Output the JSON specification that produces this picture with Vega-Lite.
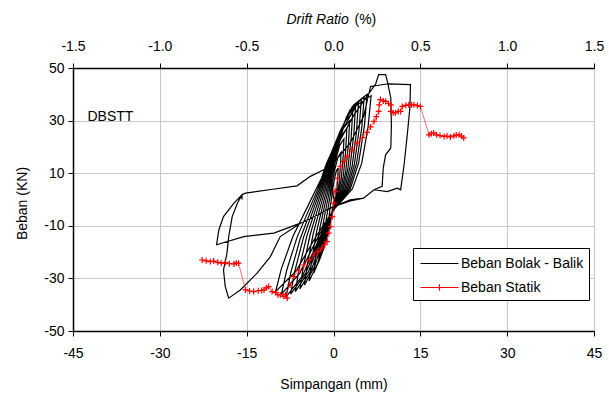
{
 "$schema": "https://vega.github.io/schema/vega-lite/v6.json",
 "width": 521, "height": 263,
 "autosize": {"type": "none"},
 "padding": {"left": 73, "top": 68, "right": 15, "bottom": 67},
 "background": "white",
 "config": {
  "font": "Liberation Sans, sans-serif",
  "view": {"stroke": "#c0c0c0", "strokeWidth": 1},
  "axis": {"labelFont": "Liberation Sans, sans-serif", "titleFont": "Liberation Sans, sans-serif", "labelFontSize": 14, "titleFontSize": 14, "labelColor": "black", "titleColor": "black", "titleFontWeight": "normal", "domainColor": "black", "domainWidth": 1.5, "tickColor": "black", "tickWidth": 1, "tickSize": 5, "gridColor": "#c8c8c8", "gridWidth": 1, "gridOpacity": 1, "labelFlush": false, "labelOverlap": false}
 },
 "datasets": {
  "hyst": [
   {"x":0,"y":0},
   {"x":-0.12,"y":4.2},{"x":0.16,"y":7.8},{"x":0.48,"y":10.8},{"x":0.8,"y":12},{"x":0.74,"y":8.4},{"x":0.6,"y":4.2},{"x":0.4,"y":1.2},{"x":0.2,"y":0},{"x":0,"y":-1.4},{"x":-0.3,"y":-5.2},{"x":-0.65,"y":-10.1},{"x":-1,"y":-13},{"x":-0.9,"y":-9.8},{"x":-0.7,"y":-5.2},{"x":-0.45,"y":-1},{"x":-0.3,"y":1.2},
   {"x":-0.22,"y":6.3},{"x":0.26,"y":11.7},{"x":0.78,"y":16.2},{"x":1.3,"y":18},{"x":1.2,"y":12.6},{"x":0.98,"y":6.3},{"x":0.65,"y":1.8},{"x":0.33,"y":0},{"x":0,"y":-2.1},{"x":-0.54,"y":-7.6},{"x":-1.17,"y":-14.8},{"x":-1.8,"y":-19},{"x":-1.62,"y":-14.3},{"x":-1.26,"y":-7.6},{"x":-0.81,"y":-1.5},{"x":-0.54,"y":1.8},
   {"x":-0.31,"y":8.1},{"x":0.36,"y":15},{"x":1.08,"y":20.7},{"x":1.8,"y":23},{"x":1.66,"y":16.1},{"x":1.35,"y":8.1},{"x":0.9,"y":2.3},{"x":0.45,"y":0},{"x":0,"y":-2.6},{"x":-0.78,"y":-9.6},{"x":-1.69,"y":-18.7},{"x":-2.6,"y":-24},{"x":-2.34,"y":-18},{"x":-1.82,"y":-9.6},{"x":-1.17,"y":-1.9},{"x":-0.78,"y":2.3},
   {"x":-0.41,"y":9.5},{"x":0.46,"y":17.6},{"x":1.38,"y":24.3},{"x":2.3,"y":27},{"x":2.12,"y":18.9},{"x":1.73,"y":9.5},{"x":1.15,"y":2.7},{"x":0.58,"y":0},{"x":0,"y":-3.1},{"x":-1.02,"y":-11.2},{"x":-2.21,"y":-21.8},{"x":-3.4,"y":-28},{"x":-3.06,"y":-21},{"x":-2.38,"y":-11.2},{"x":-1.53,"y":-2.2},{"x":-1.02,"y":2.7},
   {"x":-0.5,"y":10.5},{"x":0.56,"y":19.5},{"x":1.68,"y":27},{"x":2.8,"y":30},{"x":2.58,"y":21},{"x":2.1,"y":10.5},{"x":1.4,"y":3},{"x":0.7,"y":0},{"x":0,"y":-3.4},{"x":-1.26,"y":-12.4},{"x":-2.73,"y":-24.2},{"x":-4.2,"y":-31},{"x":-3.78,"y":-23.3},{"x":-2.94,"y":-12.4},{"x":-1.89,"y":-2.5},{"x":-1.26,"y":3},
   {"x":-0.6,"y":11.6},{"x":0.66,"y":21.5},{"x":1.98,"y":29.7},{"x":3.3,"y":33},{"x":3.04,"y":23.1},{"x":2.48,"y":11.6},{"x":1.65,"y":3.3},{"x":0.83,"y":0},{"x":0,"y":-3.6},{"x":-1.5,"y":-13},{"x":-3.25,"y":-25.4},{"x":-5,"y":-32.5},{"x":-4.5,"y":-24.4},{"x":-3.5,"y":-13},{"x":-2.25,"y":-2.6},{"x":-1.5,"y":3.3},
   {"x":-0.7,"y":12.3},{"x":0.76,"y":22.8},{"x":2.28,"y":31.5},{"x":3.8,"y":35},{"x":3.5,"y":24.5},{"x":2.85,"y":12.3},{"x":1.9,"y":3.5},{"x":0.95,"y":0},{"x":0,"y":-3.7},{"x":-1.74,"y":-13.6},{"x":-3.77,"y":-26.5},{"x":-5.8,"y":-34},{"x":-5.22,"y":-25.5},{"x":-4.06,"y":-13.6},{"x":-2.61,"y":-2.7},{"x":-1.74,"y":3.5},
   {"x":-0.79,"y":12.8},{"x":0.86,"y":23.7},{"x":2.58,"y":32.9},{"x":4.3,"y":36.5},{"x":3.96,"y":25.6},{"x":3.23,"y":12.8},{"x":2.15,"y":3.7},{"x":1.08,"y":0},{"x":0,"y":-3.9},{"x":-1.98,"y":-14},{"x":-4.29,"y":-27.3},{"x":-6.6,"y":-35},{"x":-5.94,"y":-26.3},{"x":-4.62,"y":-14},{"x":-2.97,"y":-2.8},{"x":-1.98,"y":3.7},
   {"x":-0.89,"y":13.3},{"x":0.96,"y":24.7},{"x":2.88,"y":34.2},{"x":4.8,"y":38},{"x":4.42,"y":26.6},{"x":3.6,"y":13.3},{"x":2.4,"y":3.8},{"x":1.2,"y":0},{"x":0,"y":-4},{"x":-2.22,"y":-14.4},{"x":-4.81,"y":-28.1},{"x":-7.4,"y":-36},{"x":-6.66,"y":-27},{"x":-5.18,"y":-14.4},{"x":-3.33,"y":-2.9},{"x":-2.22,"y":3.8},
   {"x":-0.98,"y":13.7},{"x":1.06,"y":25.4},{"x":3.18,"y":35.1},{"x":5.3,"y":39},{"x":4.88,"y":27.3},{"x":3.98,"y":13.7},{"x":2.65,"y":3.9},{"x":1.33,"y":0},{"x":0,"y":-4.1},{"x":-2.46,"y":-14.8},{"x":-5.33,"y":-28.9},{"x":-8.2,"y":-37},{"x":-7.38,"y":-27.8},{"x":-5.74,"y":-14.8},{"x":-3.69,"y":-3},{"x":-2.46,"y":3.9},
   {"x":-1.08,"y":14},{"x":1.16,"y":26},{"x":3.48,"y":36},{"x":5.8,"y":40},{"x":5.34,"y":28},{"x":4.35,"y":14},{"x":2.9,"y":4},{"x":1.45,"y":0},{"x":0,"y":-4},{"x":-2.7,"y":-14.4},{"x":-5.85,"y":-28.1},{"x":-9,"y":-36},{"x":-8.1,"y":-27},{"x":-6.3,"y":-14.4},{"x":-4.05,"y":-2.9},{"x":-2.7,"y":4},
   {"x":-1.2,"y":13.8},{"x":1.3,"y":25.7},{"x":3.9,"y":35.6},{"x":6.5,"y":39.5},{"x":5.98,"y":27.7},{"x":4.88,"y":13.8},{"x":3.25,"y":4},{"x":1.63,"y":0},{"x":0,"y":-3.9},{"x":-3,"y":-14},{"x":-6.5,"y":-27.3},{"x":-10,"y":-35},{"x":-9,"y":-26.3},{"x":-7,"y":-14},{"x":-4.5,"y":-2.8},{"x":-3,"y":4},
   {"x":-1.2,"y":12},{"x":1,"y":22},{"x":3.5,"y":32},{"x":6,"y":40},{"x":7.3,"y":44},{"x":7.8,"y":47.5},{"x":9,"y":47.5},{"x":9.3,"y":44.9},{"x":9.9,"y":38.6},{"x":10,"y":28},{"x":9.9,"y":19.6},{"x":9,"y":17},{"x":8.6,"y":12},{"x":8.4,"y":5},{"x":7,"y":3.7},{"x":5.2,"y":0.5},{"x":2.9,"y":-0.5},{"x":0,"y":-2.7},{"x":-2.2,"y":-5.2},{"x":-5.7,"y":-9},{"x":-9.2,"y":-14.1},{"x":-10.9,"y":-21.7},{"x":-13.2,"y":-28},{"x":-16.1,"y":-34.4},{"x":-18.1,"y":-37.5},{"x":-18.7,"y":-33.1},{"x":-19,"y":-26.8},{"x":-18.4,"y":-20.4},{"x":-18.1,"y":-14.1},{"x":-17.5,"y":-6.5},{"x":-16.6,"y":-1.4},{"x":-15.8,"y":1.8},{"x":-15.2,"y":2.4},{"x":-10.5,"y":3.9},{"x":-6.3,"y":5.2},{"x":-4,"y":8.8},{"x":-1.7,"y":11.3},{"x":0,"y":13.9},{"x":2.9,"y":21.5},{"x":5.2,"y":31.6},{"x":6.4,"y":43},{"x":9.5,"y":44},{"x":13.3,"y":43.7},{"x":13.2,"y":35},{"x":12.8,"y":25.9},{"x":12.2,"y":13.2},{"x":11.6,"y":3.7},{"x":11,"y":4.3},{"x":9.3,"y":3},{"x":7,"y":3.7},{"x":5.2,"y":0.5},{"x":2.9,"y":-0.1},{"x":0,"y":-2.7},{"x":-2.2,"y":-5.2},{"x":-5.7,"y":-9},{"x":-10.3,"y":-12.8},{"x":-15.5,"y":-14.1},{"x":-20.2,"y":-17.2},{"x":-19.8,"y":-11.5},{"x":-19,"y":-6.5},{"x":-17.2,"y":-1.4},{"x":-15.8,"y":1.8},{"x":-15.8,"y":0}
  ],
  "stat": [
   {"x":-22.7,"y":-23},{"x":-22,"y":-23.3},{"x":-21.3,"y":-23.6},{"x":-20.7,"y":-23.4},{"x":-20,"y":-23.9},{"x":-19.4,"y":-24.2},{"x":-18.7,"y":-24},{"x":-18,"y":-24.4},{"x":-17.2,"y":-24.5},{"x":-16.8,"y":-24.1},{"x":-16.4,"y":-24.2},
   {"x":-15.2,"y":-34.4},{"x":-14.5,"y":-34.8},{"x":-13.8,"y":-35},{"x":-13,"y":-34.7},{"x":-12.4,"y":-34.6},{"x":-12,"y":-34.4},{"x":-11.6,"y":-33.6},{"x":-11.2,"y":-33.1},{"x":-10.6,"y":-35},{"x":-10,"y":-35.4},{"x":-9.6,"y":-36.2},{"x":-9.2,"y":-36.3},{"x":-8.6,"y":-36.8},{"x":-8,"y":-37.5},{"x":-8.3,"y":-36.2},{"x":-7.5,"y":-32.5},{"x":-6.9,"y":-29.3},{"x":-6,"y":-27},{"x":-5.1,"y":-24.9},{"x":-4.2,"y":-23},{"x":-3.4,"y":-21.1},{"x":-2.7,"y":-19.8},{"x":-2,"y":-18.5},{"x":-1.5,"y":-17.2},{"x":-1.1,"y":-16},{"x":-0.8,"y":-12.8},{"x":-0.5,"y":-10.3},{"x":-0.2,"y":-6.5},{"x":0.05,"y":-1.4},{"x":0.3,"y":3},{"x":0.7,"y":8},{"x":1.2,"y":12.6},{"x":1.8,"y":14.5},{"x":2.4,"y":16.4},{"x":3.2,"y":19},{"x":4.1,"y":21.5},{"x":5,"y":23.5},{"x":5.8,"y":25.5},{"x":6.4,"y":27.6},{"x":7,"y":29.7},{"x":7.4,"y":31.5},{"x":7.8,"y":33.5},{"x":7.9,"y":36},{"x":8.1,"y":38},{"x":8.6,"y":37.5},{"x":9,"y":37.3},{"x":9.5,"y":36.5},{"x":9.9,"y":36},{"x":9.9,"y":33.5},{"x":10.3,"y":33},{"x":10.7,"y":32.9},{"x":11.2,"y":33.5},{"x":11.6,"y":33.5},{"x":11.9,"y":35.4},{"x":12.5,"y":35.8},{"x":13,"y":36},{"x":13.5,"y":36},{"x":13.9,"y":36},{"x":14.5,"y":35.7},{"x":15,"y":35.4},
   {"x":16.5,"y":24.6},{"x":16.9,"y":25},{"x":17.3,"y":25.3},{"x":17.8,"y":24.6},{"x":18.4,"y":24.3},{"x":19.1,"y":24},{"x":19.6,"y":24.1},{"x":20.2,"y":23.8},{"x":20.8,"y":24.2},{"x":21.2,"y":24.5},{"x":21.7,"y":24.6},{"x":22.1,"y":24.1},{"x":22.5,"y":23.4}
  ],
  "lab": [{"x": -42.5, "y": 31.5, "t": "DBSTT"}]
 },
 "encoding": {
  "y": {"field": "y", "type": "quantitative", "scale": {"domain": [-50, 50], "nice": false, "zero": false},
   "axis": {"values": [-50, -30, -10, 10, 30, 50], "labelExpr": "datum.value + ''", "grid": true, "labelPadding": 4, "title": "Beban (KN)", "titleX": -51, "titleY": 135, "titleBaseline": "middle", "titleAngle": -90}}
 },
 "layer": [
  {"data": {"name": "hyst"}, "mark": {"type": "line", "strokeWidth": 1.2, "clip": true},
   "encoding": {
    "x": {"field": "x", "type": "quantitative", "scale": {"domain": [-45, 45], "nice": false, "zero": false},
     "axis": {"orient": "bottom", "values": [-45, -30, -15, 0, 15, 30, 45], "labelExpr": "datum.value + ''", "grid": true, "labelPadding": 10, "title": "Simpangan (mm)", "titleY": 57, "titleBaseline": "alphabetic"}},
    "order": {"value": null},
    "color": {"datum": "Beban Bolak - Balik", "type": "nominal",
     "scale": {"domain": ["Beban Bolak - Balik", "Beban Statik"], "range": ["#000000", "#ff0000"]},
     "legend": {"orient": "none", "legendX": 340, "legendY": 180, "title": null, "direction": "vertical", "strokeColor": "black", "fillColor": "white", "padding": 5, "labelFontSize": 14, "labelFont": "Liberation Sans, sans-serif", "labelColor": "black", "labelLimit": 300, "symbolSize": 361, "symbolStrokeWidth": 1.2, "symbolOffset": 11, "labelOffset": 11, "rowPadding": 6, "cornerRadius": 0,
      "encode": {"symbols": {"update": {"shape": {"signal": "datum.value === 'Beban Statik' ? 'M-2,0H2M0,-0.35V0.35' : 'M-2,0H2'"}, "stroke": {"signal": "datum.value === 'Beban Statik' ? '#ff2020' : '#000000'"}, "strokeOpacity": {"value": 1}, "opacity": {"value": 1}}}}}}
   }},
  {"data": {"name": "stat"}, "mark": {"type": "line", "strokeWidth": 1, "strokeOpacity": 0.55},
   "encoding": {
    "x": {"field": "x", "type": "quantitative", "scale": {"domain": [-45, 45], "nice": false, "zero": false},
     "axis": {"orient": "top", "values": [-45, -30, -15, 0, 15, 30, 45], "labelExpr": "(datum.value < 0 ? '-' : '') + format(abs(datum.value)/30, '.1f')", "grid": false, "labelPadding": 10, "title": "Drift Ratio", "titleFontStyle": "italic", "titleX": 213, "titleY": -44.5, "titleAlign": "left", "titleBaseline": "alphabetic"}},
    "order": {"value": null},
    "color": {"datum": "Beban Statik", "type": "nominal"}
   }},
  {"data": {"name": "stat"}, "mark": {"type": "point", "shape": "M-1,0H1M0,-1V1", "size": 36, "filled": false, "stroke": "#ff0000", "strokeWidth": 1.2, "opacity": 1},
   "encoding": {
    "x": {"field": "x", "type": "quantitative", "scale": {"domain": [-45, 45], "nice": false, "zero": false},
     "axis": {"orient": "top", "labels": false, "ticks": false, "domain": false, "grid": false, "title": "(%)", "titleX": 281, "titleY": -44.5, "titleAlign": "left", "titleBaseline": "alphabetic", "titleFontStyle": "normal"}}
   }},
  {"data": {"name": "lab"}, "mark": {"type": "text", "align": "left", "baseline": "middle", "fontSize": 14, "font": "Liberation Sans, sans-serif", "color": "black"},
   "encoding": {
    "x": {"field": "x", "type": "quantitative", "scale": {"domain": [-45, 45], "nice": false, "zero": false}, "axis": null},
    "text": {"field": "t"}
   }}
 ],
 "resolve": {"axis": {"x": "independent"}}
}
